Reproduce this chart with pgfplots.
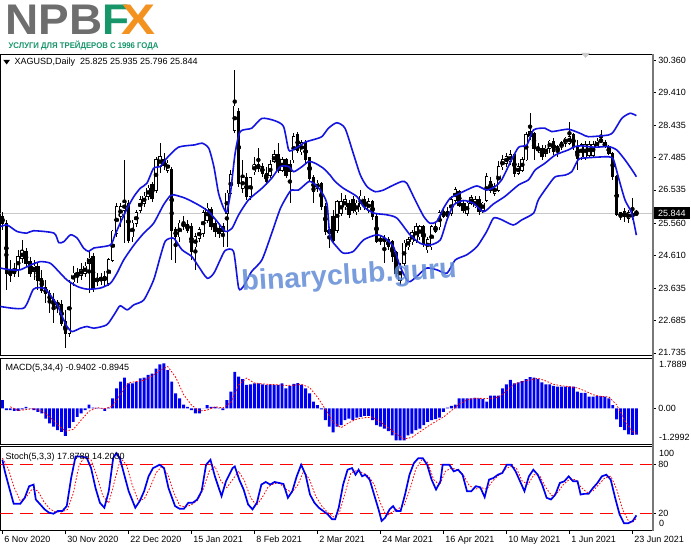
\documentclass[border=0pt]{standalone}
\usepackage{pgfplots}
\pgfplotsset{compat=1.18}
\usepackage{pgfplotstable}
\usepackage{graphicx}
\usepackage{fontspec}
\setmainfont{Liberation Sans}

\definecolor{bandblue}{RGB}{20,20,225}
\definecolor{histblue}{RGB}{0,0,240}
\definecolor{npbgray}{RGB}{110,110,110}
\definecolor{npbgreen}{RGB}{22,150,105}
\definecolor{npborange}{RGB}{244,146,32}
\definecolor{wmblue}{RGB}{98,140,215}
\definecolor{pricegray}{RGB}{200,200,200}
\definecolor{scalegray}{RGB}{120,120,120}

% XAGUSD daily candles: index, open, high, low, close
\pgfplotstableread{
i o h l c
0 25.75 25.89 25.35 25.55
1 25.55 25.65 23.59 24.08
2 24.13 24.47 23.83 24.03
3 24.08 24.37 23.98 24.18
4 24.18 24.77 23.98 24.57
5 24.52 25.06 24.37 24.72
6 24.72 24.82 24.28 24.37
7 24.42 24.57 23.98 24.08
8 24.13 24.47 23.88 24.28
9 24.28 24.37 23.59 23.88
10 23.93 24.18 23.49 23.59
11 23.64 23.88 23.20 23.49
12 23.49 23.59 22.90 23.24
13 23.29 23.49 22.61 23.10
14 23.15 23.29 22.90 23.20
15 23.15 23.29 22.51 22.61
16 22.66 23.00 21.87 22.31
17 22.31 23.88 22.21 23.78
18 23.83 24.28 23.69 24.08
19 24.03 24.23 23.78 24.08
20 24.03 24.37 23.88 24.18
21 24.08 24.42 23.98 24.28
22 24.37 24.77 23.49 24.52
23 24.57 24.67 23.54 23.64
24 23.83 24.08 23.69 23.93
25 23.88 24.08 23.74 23.93
26 23.88 24.13 23.69 23.98
27 23.78 24.52 23.69 24.47
28 24.47 25.35 24.42 25.31
29 25.26 26.14 25.16 26.04
30 25.75 26.14 25.45 26.04
31 25.94 27.42 24.96 26.14
32 26.14 26.24 24.96 25.06
33 25.16 25.65 25.01 25.55
34 25.55 25.94 25.45 25.85
35 25.94 26.34 25.85 26.24
36 26.14 26.48 26.04 26.34
37 26.34 26.68 26.24 26.58
38 26.68 26.78 26.19 26.29
39 26.53 27.51 26.43 27.42
40 27.22 27.91 27.02 27.51
41 27.42 27.61 27.12 27.27
42 27.12 27.42 27.02 27.32
43 27.12 27.22 24.47 25.35
44 25.35 25.45 24.37 25.16
45 25.16 25.65 25.01 25.55
46 25.45 25.75 25.35 25.55
47 25.50 25.65 25.26 25.35
48 25.45 25.55 24.47 24.72
49 24.86 25.26 24.18 25.16
50 25.11 25.45 25.01 25.35
51 25.26 25.94 25.16 25.85
52 25.65 26.14 25.55 25.99
53 25.94 26.04 25.35 25.45
54 25.55 25.65 25.16 25.31
55 25.40 25.50 25.11 25.26
56 25.31 25.55 24.86 25.45
57 25.85 26.53 24.86 26.43
58 26.43 27.12 26.34 26.97
59 28.30 30.07 28.20 28.99
60 28.84 28.94 26.63 26.73
61 26.58 27.42 26.43 26.88
62 26.88 27.02 26.24 26.34
63 26.34 26.92 26.24 26.88
64 27.07 27.51 26.97 27.27
65 27.17 27.76 27.07 27.27
66 27.22 27.32 26.92 27.02
67 27.02 27.22 26.68 26.78
68 26.97 27.42 26.88 27.27
69 27.37 27.71 27.32 27.56
70 27.56 27.91 27.02 27.12
71 27.12 27.51 27.07 27.42
72 27.42 27.47 26.88 26.97
73 27.27 27.42 26.14 27.07
74 27.42 28.20 27.32 28.10
75 28.15 28.25 27.61 27.71
76 27.66 28.00 27.56 27.91
77 27.91 28.00 27.32 27.42
78 27.47 27.51 26.78 26.88
79 26.88 26.97 26.14 26.48
80 26.58 26.83 26.48 26.73
81 26.73 26.78 25.94 26.04
82 26.04 26.14 25.21 25.31
83 25.35 25.45 24.82 25.26
84 25.75 25.94 24.96 25.06
85 25.35 26.24 25.26 26.19
86 25.85 26.43 25.75 26.19
87 26.04 26.39 25.94 26.24
88 26.14 26.24 25.70 25.80
89 26.24 26.34 25.85 25.94
90 25.89 26.24 25.80 26.14
91 26.04 26.53 25.94 26.34
92 26.24 26.34 25.94 26.04
93 25.94 26.29 25.85 26.19
94 26.19 26.24 25.65 25.75
95 25.75 25.85 24.96 25.01
96 25.01 25.21 24.91 25.11
97 25.11 25.21 24.37 25.01
98 25.06 25.16 24.77 24.86
99 25.01 25.06 24.42 24.57
100 24.67 24.72 23.98 24.08
101 23.88 24.37 23.74 24.28
102 24.37 25.06 24.28 24.96
103 24.86 25.16 24.77 25.06
104 25.01 25.35 24.91 25.26
105 25.06 25.55 24.96 25.45
106 25.16 25.50 25.06 25.45
107 25.45 25.50 24.86 24.96
108 24.77 25.16 24.67 25.06
109 24.86 25.50 24.77 25.45
110 25.31 25.55 25.26 25.45
111 25.45 25.94 25.35 25.85
112 25.75 25.99 25.70 25.89
113 25.89 26.04 25.65 25.75
114 25.85 26.34 25.75 26.24
115 26.24 26.63 26.14 26.53
116 26.48 26.53 26.04 26.09
117 26.14 26.24 25.85 25.94
118 25.85 26.19 25.75 26.14
119 26.14 26.39 26.09 26.29
120 26.04 26.34 25.99 26.24
121 26.24 26.34 25.80 25.89
122 25.94 26.19 25.85 26.14
123 26.24 27.02 26.19 26.92
124 26.78 26.92 26.43 26.53
125 26.43 26.73 26.34 26.63
126 26.53 27.37 26.48 27.22
127 27.22 27.56 27.12 27.42
128 27.32 27.61 27.22 27.51
129 27.37 27.71 27.27 27.56
130 27.56 27.61 26.92 27.02
131 27.02 27.32 26.97 27.22
132 27.12 27.51 27.07 27.42
133 27.42 28.25 27.37 28.15
134 28.10 28.79 28.00 28.25
135 28.20 28.25 27.42 27.76
136 27.76 27.91 27.61 27.71
137 27.76 27.86 27.42 27.51
138 27.61 27.86 27.51 27.76
139 27.76 28.00 27.61 27.96
140 27.96 28.05 27.56 27.66
141 27.81 27.86 27.51 27.66
142 27.81 27.96 27.71 27.91
143 27.91 28.10 27.81 28.05
144 27.91 28.54 27.86 28.10
145 28.15 28.20 27.71 27.81
146 27.81 28.00 27.12 27.47
147 27.51 27.91 27.42 27.86
148 27.51 27.96 27.42 27.86
149 27.56 27.96 27.51 27.86
150 27.56 27.96 27.51 27.86
151 27.81 28.05 27.76 27.96
152 28.00 28.30 27.91 27.96
153 27.91 28.00 27.76 27.81
154 27.81 27.86 27.56 27.61
155 27.61 27.66 26.83 26.92
156 26.92 26.97 25.75 25.80
157 25.85 25.89 25.65 25.75
158 25.75 25.99 25.60 25.89
159 25.70 25.94 25.55 25.85
160 25.75 26.29 25.65 25.82
161 25.825 25.935 25.796 25.844
}\candles

% MACD(5,34,4) histogram
\pgfplotstableread{
i m
0 0.30
1 -0.06
2 -0.06
3 -0.09
4 -0.09
5 -0.03
6 0.06
7 0.01
8 -0.06
9 -0.12
10 -0.18
11 -0.36
12 -0.53
13 -0.65
14 -0.78
15 -0.84
16 -0.98
17 -0.70
18 -0.48
19 -0.30
20 -0.18
21 -0.06
22 0.14
23 0.03
24 0.02
25 0.01
26 -0.09
27 0.03
28 0.36
29 0.72
30 0.96
31 1.10
32 0.90
33 0.90
34 0.96
35 1.08
36 1.10
37 1.20
38 1.25
39 1.43
40 1.58
41 1.61
42 1.37
43 0.96
44 0.54
45 0.36
46 0.14
47 0.06
48 -0.06
49 -0.18
50 -0.18
51 0.00
52 0.12
53 0.06
54 0.06
55 0.02
56 -0.06
57 0.30
58 0.60
59 1.31
60 1.14
61 1.05
62 0.84
63 0.86
64 0.90
65 0.90
66 0.86
67 0.84
68 0.86
69 0.84
70 0.84
71 0.90
72 0.72
73 0.81
74 0.88
75 0.91
76 0.84
77 0.72
78 0.54
79 0.24
80 0.12
81 -0.03
82 -0.42
83 -0.65
84 -0.86
85 -0.65
86 -0.60
87 -0.42
88 -0.36
89 -0.42
90 -0.33
91 -0.30
92 -0.27
93 -0.27
94 -0.42
95 -0.60
96 -0.65
97 -0.72
98 -0.81
99 -0.96
100 -1.14
101 -1.14
102 -1.14
103 -0.96
104 -0.90
105 -0.78
106 -0.72
107 -0.60
108 -0.48
109 -0.42
110 -0.38
111 -0.33
112 -0.12
113 0.03
114 0.09
115 0.14
116 0.36
117 0.36
118 0.36
119 0.36
120 0.38
121 0.36
122 0.33
123 0.24
124 0.46
125 0.46
126 0.46
127 0.72
128 0.86
129 1.02
130 0.90
131 0.93
132 0.98
133 1.05
134 1.12
135 1.10
136 1.05
137 0.93
138 0.86
139 0.86
140 0.81
141 0.78
142 0.78
143 0.78
144 0.78
145 0.78
146 0.60
147 0.56
148 0.56
149 0.42
150 0.42
151 0.44
152 0.44
153 0.42
154 0.36
155 0.12
156 -0.39
157 -0.66
158 -0.78
159 -0.93
160 -0.95
161 -0.9402
}\macdhist

\pgfplotsset{
  mtpanel/.style={
    scale only axis, width=652.7pt,
    xmin=-0.51, xmax=165.15,
    anchor=south west,
    clip mode=individual,
    axis line style={black, line width=0.8pt},
    tick align=outside, major tick length=3pt,
    tick style={black, line width=0.6pt},
    ytick pos=right, yticklabel pos=right,
    xtick=\empty,
    yticklabel style={font=\fontsize{9}{10}\selectfont, anchor=west, xshift=-1pt},
    xticklabel style={font=\fontsize{9}{10}\selectfont},
  },
}
\tikzset{panellabel/.style={font=\fontsize{9}{10}\selectfont, anchor=west, inner sep=0pt}}

\begin{document}
\begin{tikzpicture}[x=1pt,y=1pt]
\fill[white] (0,0) rectangle (691,549);

% ---------- price panel ----------
\begin{axis}[mtpanel, at={(0pt,193pt)}, height=302pt,
  ymin=21.647, ymax=30.537,
  ytick={21.735,22.685,23.635,24.610,25.560,26.535,27.485,28.435,29.410,30.360},
  yticklabels={21.735,22.685,23.635,24.610,25.560,26.535,27.485,28.435,29.410,30.360}]
  % last price line
  \addplot[pricegray, line width=0.8pt, forget plot] coordinates {(-0.51,25.844) (165.15,25.844)};
  % shadows
  \addplot[forget plot, only marks, mark=none,
    error bars/.cd, y dir=both, y explicit, error mark=none,
    error bar style={black, line width=0.7pt}]
    table[x=i, y expr={(\thisrow{h}+\thisrow{l})/2}, y error expr={(\thisrow{h}-\thisrow{l})/2}] {\candles};
  % bodies
  \addplot[forget plot, only marks, mark=none,
    error bars/.cd, y dir=both, y explicit, error mark=none,
    error bar style={black, line width=3.4pt}]
    table[x=i, y expr={(\thisrow{o}+\thisrow{c})/2}, y error expr={abs(\thisrow{c}-\thisrow{o})/2+0.02}] {\candles};
  % hollow bull bodies
  \addplot[forget plot, only marks, mark=none,
    error bars/.cd, y dir=both, y explicit, error mark=none,
    error bar style={white, line width=2.0pt}]
    table[x=i, y expr={(\thisrow{o}+\thisrow{c})/2}, y error expr={max(\thisrow{c}-\thisrow{o},0)/2}] {\candles};
  % Bollinger bands
  \addplot[bandblue, line width=1.6pt, smooth, tension=0.4] coordinates {
    (-0.5,25.45) (1.2,25.50) (3.7,25.31) (6.2,25.26) (7.9,25.33) (13.1,25.26) (14.3,24.98) (15.6,25.01)
    (17.3,25.21) (19.0,25.11) (20.6,24.82) (21.9,24.72) (23.2,24.82) (27.4,24.91) (28.6,25.21) (29.9,25.55)
    (31.7,25.99) (33.4,26.34) (35.0,26.58) (36.7,26.73) (38.4,27.17) (40.1,27.22) (41.6,27.45) (44.7,27.79)
    (48.9,27.86) (50.7,27.91) (52.4,27.76) (53.7,27.22) (54.9,26.43) (56.2,25.99) (57.0,25.89) (57.9,26.43)
    (59.1,27.61) (60.4,28.25) (63.3,28.35) (65.9,28.64) (69.2,28.57) (71.4,28.40) (72.7,27.71) (74.0,27.73)
    (75.2,27.81) (76.9,27.94) (78.6,28.00) (81.1,28.10) (82.8,28.35) (84.9,28.51) (87.0,28.35) (89.1,27.61)
    (90.9,26.97) (92.6,26.63) (94.7,26.48) (96.8,26.53) (98.5,26.63) (101.4,26.78) (102.7,26.73) (104.8,26.24)
    (107.0,25.75) (108.6,25.55) (110.3,25.60) (112.0,25.99) (113.7,26.29) (115.4,26.39) (117.9,26.53) (120.5,26.65)
    (123.0,26.53) (125.1,26.63) (126.8,26.83) (129.3,27.42) (131.1,27.79) (133.2,27.86) (134.9,28.30) (137.8,28.35)
    (139.5,28.25) (143.7,28.32) (147.1,28.18) (148.8,28.10) (153.9,28.15) (155.2,28.25) (157.3,28.64) (159.4,28.79)
    (161,28.72)};
  \addplot[bandblue, line width=1.6pt, smooth, tension=0.4] coordinates {
    (-0.5,24.23) (2.0,24.18) (4.5,24.18) (7.1,24.32) (9.6,24.42) (12.2,24.37) (14.7,24.08) (16.4,23.88)
    (19.0,23.69) (21.5,23.61) (24.8,23.64) (27.4,23.78) (29.1,24.08) (30.8,24.47) (33.4,24.91) (35.9,25.26)
    (38.4,25.55) (40.9,26.09) (42.6,26.36) (43.5,26.39) (46.4,26.29) (49.8,26.09) (52.4,25.89) (54.9,25.55)
    (56.6,25.31) (58.3,25.40) (60.0,25.80) (62.5,26.24) (65.9,26.58) (68.4,26.88) (70.6,27.22) (72.7,27.22)
    (74.0,27.07) (76.1,27.22) (77.8,27.37) (79.4,27.32) (81.5,27.17) (83.2,26.97) (84.5,26.78) (86.6,26.58)
    (90.0,26.34) (91.7,26.04) (94.3,25.85) (97.6,25.80) (100.2,25.70) (103.5,25.21) (106.1,24.96) (108.6,24.91)
    (111.2,25.06) (112.9,25.65) (114.6,26.09) (117.1,26.22) (119.6,26.14) (122.2,25.89) (124.7,26.12) (127.6,26.34)
    (131.1,26.68) (133.6,26.83) (135.3,27.12) (137.8,27.32) (140.4,27.56) (143.7,27.71) (145.4,27.81) (147.1,27.83)
    (150.5,27.79) (153.9,27.81) (156.0,27.71) (158.1,27.42) (160.2,27.07) (161,26.92)};
  \addplot[bandblue, line width=1.6pt, smooth, tension=0.4] coordinates {
    (-0.5,23.10) (5.4,23.05) (7.9,23.61) (10.5,23.64) (11.8,23.49) (13.9,23.15) (15.2,22.80) (16.4,22.51)
    (17.7,22.36) (19.8,22.46) (21.5,22.51) (23.2,22.46) (26.5,22.56) (28.6,22.90) (29.9,23.12) (31.7,23.00)
    (33.4,23.15) (35.9,23.29) (38.4,23.88) (40.1,24.57) (41.4,25.03) (43.5,25.11) (45.6,24.77) (48.1,24.57)
    (49.8,24.28) (52.0,23.93) (53.7,24.08) (55.3,24.47) (56.6,24.75) (58.7,24.72) (60.0,23.64) (61.2,23.69)
    (63.3,24.13) (65.9,24.47) (68.4,25.26) (70.6,25.99) (72.7,26.43) (73.5,26.53) (75.2,26.53) (77.8,26.78)
    (79.0,26.73) (80.7,26.53) (82.4,26.14) (83.2,25.16) (84.9,24.86) (86.6,24.67) (89.1,24.72) (91.7,25.06)
    (95.1,25.21) (97.2,25.11) (99.3,24.86) (101.0,24.28) (103.1,23.83) (105.2,23.98) (107.7,24.23) (110.3,24.18)
    (112.9,24.08) (115.0,24.47) (117.9,24.62) (120.5,24.86) (123.0,25.31) (124.7,25.70) (126.5,25.67) (129.7,25.50)
    (131.9,25.65) (134.9,25.85) (136.1,26.24) (138.7,26.68) (140.4,26.92) (142.9,26.97) (144.6,27.07) (146.2,27.42)
    (147.5,27.47) (153.9,27.51) (155.2,27.42) (156.4,26.92) (158.1,26.24) (159.8,25.85) (161,25.20)};
  \coordinate (lastprice) at (axis cs:165.15,25.844);
\end{axis}

% ---------- MACD panel ----------
\begin{axis}[mtpanel, at={(0pt,104pt)}, height=86.3pt,
  ymin=-1.2992, ymax=1.7889,
  ytick={0}, yticklabels={0.00}]
  \addplot[ybar, bar width=0.74, bar shift=0pt, fill=histblue, draw=none]
    table[x=i, y=m] {\macdhist};
  \addplot[red, line width=0.8pt, dash pattern=on 1.6pt off 1.6pt] coordinates {
    (2,0.06) (4,-0.075) (6,-0.04) (8,-0.005) (10,-0.09) (12,-0.30) (14,-0.58) (16,-0.81) (18,-0.75)
    (20,-0.415) (22,-0.10) (24,0.03) (26,-0.01) (28,0.08) (30,0.52) (32,0.92) (34,0.965) (36,1.01)
    (38,1.16) (40,1.365) (42,1.50) (44,1.12) (46,0.50) (48,0.125) (50,-0.09) (52,-0.06) (54,0.06)
    (56,0.02) (58,0.215) (60,0.84) (62,1.085) (64,0.91) (66,0.88) (68,0.86) (70,0.845) (72,0.825)
    (74,0.83) (76,0.86) (78,0.75) (80,0.405) (82,-0.02) (84,-0.49) (86,-0.69) (88,-0.51) (90,-0.38)
    (92,-0.33) (94,-0.315) (96,-0.485) (98,-0.695) (100,-0.91) (102,-1.095) (104,-1.035) (106,-0.84)
    (108,-0.645) (110,-0.47) (112,-0.31) (114,-0.08) (116,0.155) (118,0.305) (120,0.365) (122,0.36)
    (124,0.35) (126,0.405) (128,0.625) (130,0.875) (132,0.96) (134,1.02) (136,1.08) (138,0.985)
    (140,0.865) (142,0.81) (144,0.78) (146,0.735) (148,0.625) (150,0.49) (152,0.43) (154,0.415)
    (156,0.13) (158,-0.43) (160,-0.83) (161,-0.8945)};
\end{axis}

% ---------- Stochastic panel ----------
\begin{axis}[mtpanel, at={(0pt,18pt)}, height=84pt,
  ymin=-0.86, ymax=102.1,
  ytick={20,80}, yticklabels={20,80},
  xtick={0,16,32,48,64,80,96,112,128,144,160},
  xticklabels={6 Nov 2020,30 Nov 2020,22 Dec 2020,15 Jan 2021,8 Feb 2021,2 Mar 2021,24 Mar 2021,16 Apr 2021,10 May 2021,1 Jun 2021,23 Jun 2021},
  xtick pos=left,
  xticklabel style={anchor=north west, xshift=-1.5pt, yshift=1pt}]
  \addplot[red, line width=1pt, dash pattern=on 13pt off 7pt] coordinates {(-0.51,80) (165.15,80)};
  \addplot[red, line width=1pt, dash pattern=on 13pt off 7pt] coordinates {(-0.51,20) (165.15,20)};
  \addplot[red, line width=0.8pt, dash pattern=on 1.6pt off 1.6pt] coordinates {
    (0,88) (1.5,75) (3,52) (4.5,36) (6,40) (7.5,50) (9,48) (10.5,35) (12,26) (13.5,22) (15,22) (16.5,25)
    (18,45) (19.5,80) (21,90) (22.5,86) (24,66) (25.5,42) (27,33) (28.5,60) (30,88) (31.5,80) (33,55)
    (34.5,36) (36,38) (37.5,52) (39,70) (40.5,78) (42,68) (43.5,46) (45,30) (46.5,28) (48,31) (49.5,36)
    (51,50) (52.5,72) (54,78) (55.5,60) (57,52) (58.5,62) (60,72) (61.5,60) (63,40) (64.5,30) (66,40)
    (67.5,53) (69,57) (70.5,57) (72,50) (73.5,46) (75,55) (76.5,72) (78,62) (79.5,42) (81,30) (82.5,22)
    (84,16) (85.5,20) (87,45) (88.5,70) (90,73) (91.5,70) (93,66) (94.5,55) (96,33) (97.5,17) (99,22)
    (100.5,26) (102,30) (103.5,50) (105,75) (106.5,86) (108,83) (109.5,62) (111,55) (112.5,72) (114,76)
    (115.5,74) (117,68) (118.5,55) (120,50) (121.5,52) (123,50) (124.5,60) (126,67) (127.5,74) (129,78)
    (130.5,76) (132,60) (133.5,56) (135,68) (136.5,66) (138,52) (139.5,42) (141,46) (142.5,56) (144,62)
    (145.5,62) (147,52) (148.5,46) (150,48) (151.5,56) (153,64) (154.5,66) (156,50) (157.5,25) (159,11)
    (160,9.5) (161,14.2030)};
  \addplot[histblue, line width=1.7pt] coordinates {
    (0,86.1) (0.62,71.9) (1.74,51.6) (2.86,32.2) (4.55,32.2) (5.67,39.5) (6.79,53.7) (7.92,55.7) (8.48,37.4)
    (9.6,31.4) (10.72,25.3) (11.85,21.2) (12.97,20.0) (14.09,23.3) (15.22,23.3) (16.34,29.3) (17.46,63.8)
    (18.58,90.1) (19.71,90.1) (21.39,88.9) (22.52,75.9) (23.64,51.6) (24.76,33.4) (25.89,27.3) (27.01,47.6)
    (28.13,88.1) (28.92,94.2) (29.82,88.1) (30.94,67.8) (32.06,47.6) (33.75,27.3) (34.87,35.4) (35.99,47.6)
    (37.12,65.8) (38.24,75.9) (39.92,80.0) (41.05,75.9) (42.17,51.6) (43.85,29.3) (44.98,26.1) (46.10,26.1)
    (47.22,33.4) (48.35,33.4) (49.47,37.4) (50.59,47.6) (51.72,80.0) (52.84,86.1) (53.96,65.8) (55.65,41.5)
    (56.77,59.7) (58.46,75.9) (59.02,78.0) (60.14,61.8) (61.26,49.6) (62.39,31.4) (63.51,25.3) (64.63,33.4)
    (65.76,55.7) (66.88,58.9) (68.0,55.7) (69.13,58.9) (70.25,57.7) (71.37,56.5) (72.50,39.5) (73.62,47.6)
    (74.74,65.8) (75.87,80.0) (76.99,67.8) (78.11,43.5) (79.24,33.4) (80.36,27.3) (81.48,23.3) (82.61,19.2)
    (83.73,13.1) (84.51,13.1) (85.41,27.3) (86.53,55.7) (87.66,73.9) (88.78,75.9) (89.68,67.8) (90.46,73.9)
    (91.36,65.8) (92.15,67.8) (93.27,61.8) (94.39,43.5) (95.52,25.3) (96.30,11.1) (97.20,15.1) (98.32,25.3)
    (99.22,29.3) (100.01,23.3) (101.13,23.3) (102.25,43.5) (103.38,67.8) (104.50,82.0) (105.62,88.1)
    (106.75,88.1) (107.87,80.0) (108.99,61.8) (110.12,49.6) (111.24,59.7) (111.80,80.0) (113.49,80.0)
    (114.61,71.9) (115.73,73.9) (116.86,67.8) (117.98,47.6) (119.10,47.6) (120.23,53.7) (121.35,52.4)
    (122.47,40.3) (123.59,61.8) (124.72,63.8) (125.84,67.8) (126.96,69.9) (128.09,80.0) (129.21,80.0)
    (130.33,71.9) (131.46,59.7) (132.58,47.6) (133.70,65.8) (134.83,73.9) (135.95,67.8) (137.07,55.7)
    (138.20,39.5) (139.32,37.4) (140.44,43.5) (141.56,57.7) (142.69,59.7) (143.81,65.8) (144.93,59.7)
    (146.06,59.7) (146.84,43.5) (147.74,44.3) (148.86,44.3) (149.99,51.6) (151.11,57.7) (152.23,65.8)
    (153.36,67.8) (154.48,61.8) (155.60,39.5) (156.73,19.2) (157.85,8.3) (158.97,8.3) (160.09,11.1)
    (161,17.8789)};
\end{axis}

% price scale separator
\draw[scalegray, line width=2pt] (652.7,18) -- (652.7,495);

% indicator scale extremes
\node[panellabel] at (659,184) {1.7889};
\node[panellabel] at (659,111) {-1.2992};
\node[panellabel] at (659,95) {100};
\node[panellabel] at (659,25) {0};

% last price tag
\node[fill=black, text=white, font=\fontsize{9}{10}\selectfont, anchor=west, inner sep=1.2pt,
  minimum height=12pt, minimum width=36pt] at ([xshift=1pt]lastprice) {25.844};

% panel captions
\fill[black] (3,489) -- (9.5,489) -- (6.25,484.5) -- cycle;
\node[panellabel] at (14,487) {XAGUSD,Daily\ \ 25.825 25.935 25.796 25.844};
\node[panellabel] at (5,181) {MACD(5,34,4) -0.9402 -0.8945};
\node[panellabel] at (5,92) {Stoch(5,3,3) 17.8789 14.2030};

% chart shift marker
\fill[gray!40] (581,496) -- (590,496) -- (585.5,491) -- cycle;

% logo
\node[anchor=south west, inner sep=0pt, text=npbgray] at (5,514) {\resizebox{97pt}{29.5pt}{\bfseries NPB}};
\node[anchor=south west, inner sep=0pt, text=npbgreen] at (102,514) {\resizebox{27pt}{29.5pt}{\bfseries F}};
\node[anchor=south west, inner sep=0pt, text=npborange] at (121,514) {\resizebox{34pt}{29.5pt}{\bfseries X}};
\node[anchor=south west, inner sep=0pt, text=npbgreen] at (8,498.5) {\resizebox{150pt}{7.5pt}{\bfseries УСЛУГИ ДЛЯ ТРЕЙДЕРОВ С 1996 ГОДА}};

% watermark
\node[text=wmblue, opacity=0.85, rotate=3.5, font=\fontsize{28.5}{30}\selectfont\bfseries] at (349,272) {binaryclub.guru};
\end{tikzpicture}
\end{document}
